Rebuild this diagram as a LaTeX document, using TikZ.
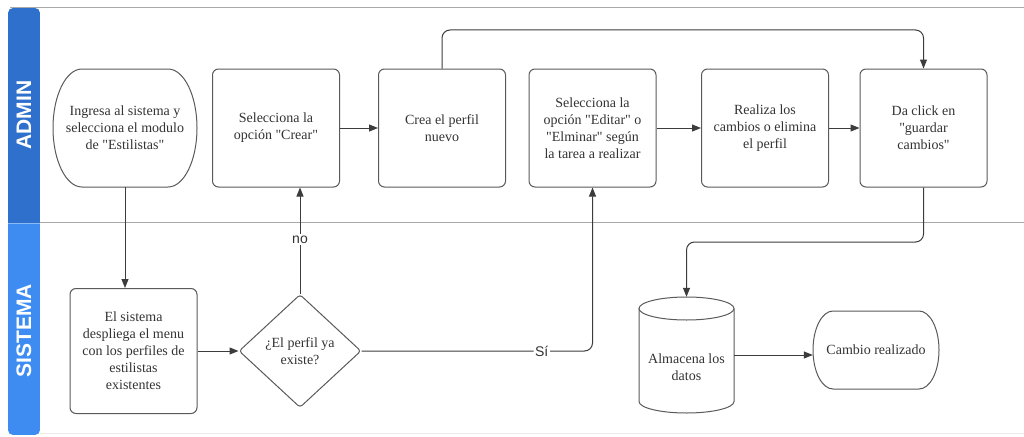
\documentclass[tikz,border=0pt]{standalone}
\usepackage{fontspec}
\setmainfont{Liberation Serif}
\setsansfont{Liberation Sans}
\usetikzlibrary{shapes.misc,shapes.geometric,arrows.meta}
\definecolor{adminblue}{HTML}{2F70CC}
\definecolor{sisblue}{HTML}{3E8CF2}
\definecolor{laneline}{HTML}{A8A8A8}
\definecolor{boxc}{HTML}{5A5A5A}
\definecolor{txt}{HTML}{333333}
\definecolor{conn}{HTML}{3C3C3C}
\newcommand{\dq}{\textquotedbl}
\tikzset{
  boxtxt/.style={align=center, font=\rmfamily\fontsize{14}{17}\selectfont, text=txt},
  stepbox/.style={boxtxt, draw=boxc, line width=1pt, rounded corners=6pt, minimum width=127pt, minimum height=118pt, inner sep=2pt},
  termarea/.style={boxtxt, inner sep=2pt},
  outline/.style={draw=boxc, line width=1pt},
  decbox/.style={boxtxt, draw=boxc, line width=1pt, diamond, rounded corners=3pt, minimum width=122pt, minimum height=113pt, inner sep=0pt},
  connector/.style={draw=conn, line width=1pt, -{Triangle[length=9pt,width=7pt]}},
  lbl/.style={fill=white, font=\sffamily\fontsize{14}{16}\selectfont, text=txt, inner sep=1.5pt},
  lanetxt/.style={text=white, font=\sffamily\bfseries\fontsize{21}{24}\selectfont}
}
\begin{document}
\begin{tikzpicture}[x=1pt,y=-1pt]
\useasboundingbox (0,0) rectangle (1024,436);
\fill[white] (0,0) rectangle (1024,436);
% lanes
\draw[laneline, line width=1.5pt] (10,7.5) -- (1024,7.5);
\draw[laneline, line width=1.2pt] (40,222.5) -- (1024,222.5);
\draw[black!8, line width=1pt] (40,433.5) -- (1024,433.5);
\begin{scope}
  \clip[rounded corners=5pt] (8,8) rectangle (40,435);
  \fill[adminblue] (8,8) rectangle (40,222.5);
  \fill[sisblue] (8,222.5) rectangle (40,435);
  \draw[sisblue!60!white, line width=1pt] (8,223) -- (40,223);
\end{scope}
\node[lanetxt, rotate=90] (adminlbl) at (24,115) {ADMIN};
\node[lanetxt, rotate=90] (sislbl) at (24,331) {SISTEMA};
% admin lane
\node[termarea, minimum width=144pt, minimum height=118pt] (start) at (125,128) {Ingresa al sistema y\\selecciona el modulo\\de \dq Estilistas\dq};
\draw[outline] (82,69) -- (168,69) arc[start angle=90, end angle=-90, x radius=29pt, y radius=59pt] -- (82,187) arc[start angle=270, end angle=90, x radius=29pt, y radius=59pt] -- cycle;
\node[stepbox] (crear) at (276,128) {Selecciona la\\opción \dq Crear\dq};
\node[stepbox] (crea) at (442,128) {Crea el perfil\\nuevo};
\node[stepbox] (editar) at (592.5,128) {Selecciona la\\opción \dq Editar\dq{} o\\\dq Elminar\dq{} según\\la tarea a realizar};
\node[stepbox] (realiza) at (765,128) {Realiza los\\cambios o elimina\\el perfil};
\node[stepbox] (click) at (923.5,128) {Da click en\\\dq guardar\\cambios\dq};
% sistema lane
\node[stepbox, minimum height=125pt] (sys) at (133.5,351) {El sistema\\despliega el menu\\con los perfiles de\\estilistas\\existentes};
\node[decbox] (dec) at (300,351) {¿El perfil ya\\existe?};
\node[minimum width=95pt, minimum height=116pt, inner sep=0pt] (db) at (686.5,355) {};
\draw[outline] (639,308.5) -- (639,401.5) arc[start angle=180, end angle=360, x radius=47.5pt, y radius=11.5pt] -- (734,308.5);
\draw[outline] (686.5,308.5) ellipse[x radius=47.5pt, y radius=11.5pt];
\node[boxtxt] (dbtxt) at ([yshift=-12pt]db.center) {Almacena los\\datos};
\node[termarea, minimum width=126pt, minimum height=78pt] (fin) at (876,350) {Cambio realizado};
\draw[outline] (833,311) -- (919,311) arc[start angle=90, end angle=-90, x radius=20pt, y radius=39pt] -- (833,389) arc[start angle=270, end angle=90, x radius=20pt, y radius=39pt] -- cycle;
% coordinates for routing
\coordinate (topy) at (0,30);
\coordinate (midy) at (0,242);
% connectors
\draw[connector] (crear.east) -- (crea.west);
\draw[connector] (editar.east) -- (realiza.west);
\draw[connector] (realiza.east) -- (click.west);
\draw[connector, rounded corners=8pt] (crea.north) -- (crea.north |- topy) -- (click.north |- topy) -- (click.north);
\draw[connector] (start.south) -- (start.south |- sys.north);
\draw[connector] (sys.east) -- (dec.west);
\draw[connector] (dec.north) -- node[lbl, pos=0.51] {no} (dec.north |- crear.south);
\draw[connector, rounded corners=8pt] (dec.east) -- node[lbl, pos=0.78] {Sí} (editar.south |- dec.east) -- (editar.south);
\draw[connector, rounded corners=8pt] (click.south) -- (click.south |- midy) -- (db.north |- midy) -- (db.north);
\draw[connector] (db.east) -- (fin.west |- db.east);
\end{tikzpicture}
\end{document}
